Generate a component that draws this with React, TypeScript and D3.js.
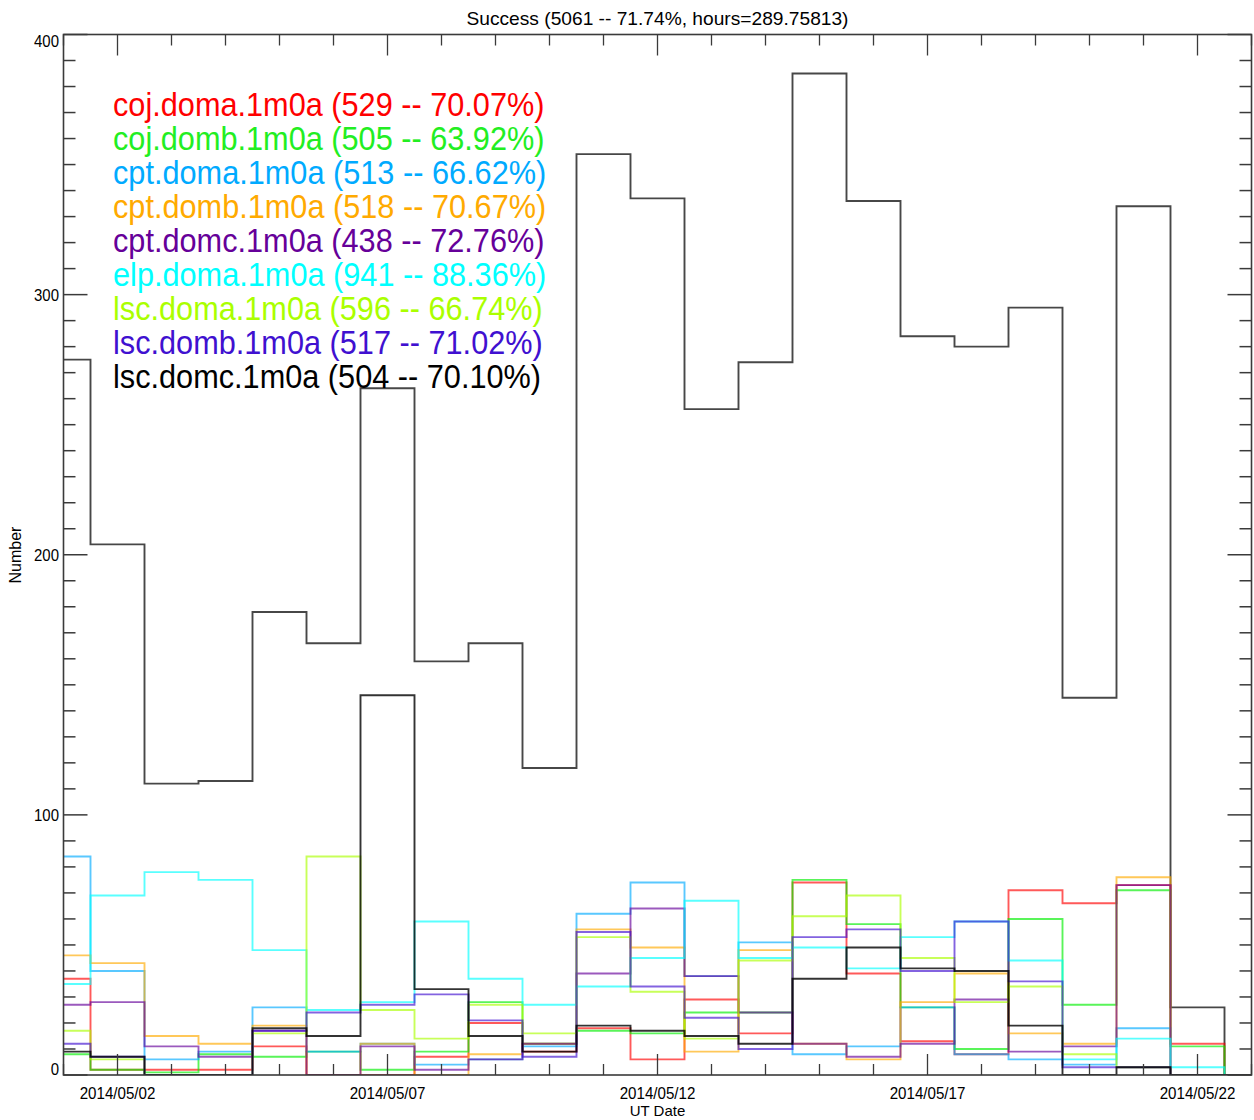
import React from 'react';
import * as d3 from 'd3';

// ---- data ----
const binDates = [
  '2014-05-01','2014-05-02','2014-05-03','2014-05-04','2014-05-05','2014-05-06',
  '2014-05-07','2014-05-08','2014-05-09','2014-05-10','2014-05-11','2014-05-12',
  '2014-05-13','2014-05-14','2014-05-15','2014-05-16','2014-05-17','2014-05-18',
  '2014-05-19','2014-05-20','2014-05-21','2014-05-22','2014-05-23'
];
const total    = [275,204,112,113,178,166,264,159,166,118,354,337,256,274,385,336,284,280,295,145,334,26,0];
const cojDoma  = [37,2,2,2,11,0,0,7,20,9,18,6,29,16,74,39,13,8,71,66,73,12,0];
const cojDomb  = [8,2,1,8,7,9,2,9,28,12,17,16,24,24,75,58,26,10,60,27,71,11,0];
const cptDoma  = [84,40,6,9,26,9,12,4,6,11,62,74,38,51,8,11,26,8,6,4,18,0,0];
const cptDomb  = [46,43,15,12,19,0,12,0,8,12,56,49,9,48,12,6,28,39,16,12,76,0,0];
const cptDomc  = [27,28,11,7,17,0,11,2,6,12,39,64,38,24,12,7,12,29,9,11,73,0,0];
const elpDoma  = [35,69,78,75,48,25,28,59,37,27,34,45,67,45,49,41,53,59,44,6,14,3,0];
const lscDoma  = [17,6,0,0,16,84,25,14,27,16,53,32,14,44,61,69,45,28,34,8,3,0,0];
const lscDomb  = [12,7,0,0,17,24,27,31,21,7,55,34,22,10,53,56,40,59,36,3,3,0,0];
const lscDomc  = [9,7,0,0,18,15,146,33,15,9,19,17,15,12,37,49,41,40,19,0,3,0,0];

const seriesNames = ['coj.doma.1m0a','coj.domb.1m0a','cpt.doma.1m0a','cpt.domb.1m0a','cpt.domc.1m0a','elp.doma.1m0a','lsc.doma.1m0a','lsc.domb.1m0a','lsc.domc.1m0a'];
const seriesStats = ['(529 -- 70.07%)','(505 -- 63.92%)','(513 -- 66.62%)','(518 -- 70.67%)','(438 -- 72.76%)','(941 -- 88.36%)','(596 -- 66.74%)','(517 -- 71.02%)','(504 -- 70.10%)'];
const seriesColors = ['#ff0000','#00ee00','#00aaff','#ffaa00','#660099','#00ffff','#aaff00','#4010d0','#000000'];
const seriesValues = [cojDoma,cojDomb,cptDoma,cptDomb,cptDomc,elpDoma,lscDoma,lscDomb,lscDomc];

const titleText = 'Success (5061 -- 71.74%, hours=289.75813)';
const xTickLabels = ['2014/05/02','2014/05/07','2014/05/12','2014/05/17','2014/05/22'];
const xTickDates = ['2014-05-02','2014-05-07','2014-05-12','2014-05-17','2014-05-22'];
const yTicks = [0,100,200,300,400];

const W = 1254, H = 1120;
const L = 63.5, R = 1251.5, T = 34.5, B = 1075;
const FONT = '"Liberation Sans", Arial, Helvetica, sans-serif';

const parse = (s: string) => new Date(s + 'T00:00:00Z');

function SText(props: {x:number; y:number; sx?:number; size:number; anchor?:string; fill?:string; children:any; rotate?:number}) {
  const {x,y,sx=1,size,anchor='start',fill='#000',children,rotate=0} = props;
  return (
    <text transform={`translate(${x},${y}) rotate(${rotate}) scale(${sx},1)`} fontSize={size}
      fontFamily={FONT} textAnchor={anchor} fill={fill}>{children}</text>
  );
}

export default function App() {
  const dates = binDates.map(parse);
  const x = d3.scaleUtc().domain([parse('2014-05-01'), parse('2014-05-23')]).range([L, R]);
  const y = d3.scaleLinear().domain([0, 400]).range([B, T]);
  const line = d3.line<number>().x((_, i) => x(dates[i])).y(d => y(d)).curve(d3.curveStep);

  const dayTicks = d3.utcDay.range(parse('2014-05-01'), parse('2014-05-24'));
  const majorSet = new Set(xTickDates);
  const minorY = d3.range(0, 401, 10);
  const axisColor = '#3a3a3a';

  return (
    <svg width={W} height={H} style={{position:'absolute', left:0, top:0, display:'block', background:'#fff'}}>
      <rect x={0} y={0} width={W} height={H} fill="#fff" />
      <defs>
        <clipPath id="plotclip"><rect x={L} y={T-2} width={R-L} height={B-T+2} /></clipPath>
      </defs>
      <g clipPath="url(#plotclip)" fill="none">
        <path d={line(total) || ''} stroke="#000" strokeWidth={1.9} strokeOpacity={0.72} />
        {seriesValues.map((vals, k) => (
          <path key={k} d={line(vals) || ''} stroke={seriesColors[k]} strokeWidth={1.9}
            strokeOpacity={k === 8 ? 0.8 : 0.65} />
        ))}
      </g>
      {/* axes box */}
      <rect x={L} y={T} width={R-L} height={B-T} fill="none" stroke={axisColor} strokeWidth={1.6} />
      {/* y ticks */}
      {minorY.map(v => {
        const len = v % 100 === 0 ? 24 : 12;
        return (
          <g key={'y'+v}>
            <line x1={L} x2={L+len} y1={y(v)} y2={y(v)} stroke={axisColor} strokeWidth={1.5} />
            <line x1={R} x2={R-len} y1={y(v)} y2={y(v)} stroke={axisColor} strokeWidth={1.5} />
          </g>
        );
      })}
      {/* x ticks */}
      {dayTicks.map(d => {
        const key = d3.utcFormat('%Y-%m-%d')(d);
        const len = majorSet.has(key) ? 21 : 11;
        return (
          <g key={'x'+key}>
            <line x1={x(d)} x2={x(d)} y1={B} y2={B-len} stroke={axisColor} strokeWidth={1.3} />
            <line x1={x(d)} x2={x(d)} y1={T} y2={T+len} stroke={axisColor} strokeWidth={1.3} />
          </g>
        );
      })}
      {/* y tick labels */}
      {yTicks.map(v => {
        const off = v === 0 ? 0 : v === 400 ? 12 : 6;
        return <SText key={'yl'+v} x={59} y={y(v)+off} sx={0.88} size={17} anchor="end">{String(v)}</SText>;
      })}
      {/* x tick labels */}
      {xTickLabels.map((lab, i) => (
        <SText key={'xl'+i} x={x(parse(xTickDates[i]))} y={1099} sx={0.89} size={17} anchor="middle">{lab}</SText>
      ))}
      <SText x={(L+R)/2} y={1116} size={15} anchor="middle">UT Date</SText>
      <SText x={21} y={555} size={16} anchor="middle" rotate={-90}>Number</SText>
      <text x={(L+R)/2} y={25} fontSize={19} fontFamily={FONT} textAnchor="middle" textLength={382} lengthAdjust="spacingAndGlyphs">{titleText}</text>
      {/* legend */}
      {seriesNames.map((nm, k) => (
        <SText key={'lg'+k} x={113} y={116 + k*34} sx={0.93} size={33} fill={seriesColors[k] === '#00ee00' ? '#22ee22' : seriesColors[k]}>
          {nm + ' ' + seriesStats[k]}
        </SText>
      ))}
    </svg>
  );
}
